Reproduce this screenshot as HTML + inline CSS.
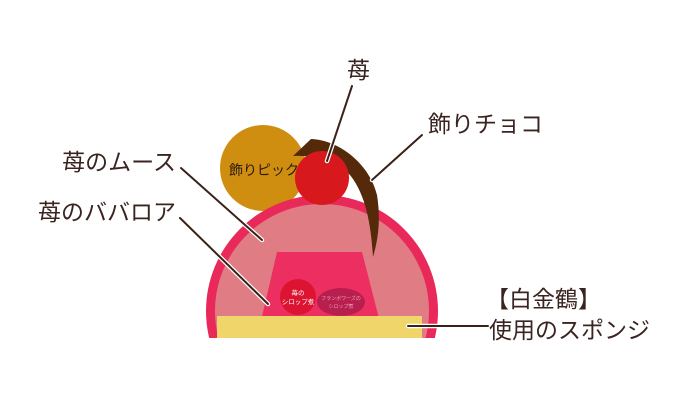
<!DOCTYPE html>
<html><head><meta charset="utf-8"><style>
html,body{margin:0;padding:0;background:#fff;width:690px;height:400px;overflow:hidden;}
svg{display:block;}
text{font-family:"Liberation Sans","Noto Sans CJK JP",sans-serif;fill:#3a2420;}
</style></head><body>
<svg width="690" height="400" viewBox="0 0 690 400">
<defs><clipPath id="c"><rect x="0" y="0" width="690" height="338"/></clipPath></defs>
<circle cx="263" cy="168" r="43" fill="#d08e10"/>
<text x="229" y="175" font-size="14" style="fill:#2a1a10">飾りピック</text>
<g clip-path="url(#c)">
<circle cx="322" cy="311" r="116" fill="#e8295a"/>
<circle cx="322" cy="311" r="107" fill="#e07c84"/>
</g>
<polygon points="277,252 362,252 384,338 257,338" fill="#ec2f60"/>
<circle cx="298" cy="297" r="18" fill="#dc1431"/>
<ellipse cx="341" cy="302" rx="24" ry="14" fill="#b81f4e"/>
<text x="298" y="295" font-size="6.5" text-anchor="middle" style="fill:#fff">苺の</text>
<text x="298" y="304" font-size="6.5" text-anchor="middle" style="fill:#fff">シロップ煮</text>
<text x="341" y="300" font-size="5" text-anchor="middle" style="fill:#e8a0b8">フランボワーズの</text>
<text x="341" y="308" font-size="5" text-anchor="middle" style="fill:#e8a0b8">シロップ煮</text>
<rect x="217" y="316" width="205" height="22" fill="#efd56a"/>
<path d="M293,156 L311,139 C340,140 370,165 377,195 C381,220 378,240 373,257 C371,225 366,195 350,175 C335,160 315,155 293,156 Z" fill="#552a0a"/>
<circle cx="322" cy="178" r="27" fill="#d7191e"/>
<g stroke-linecap="round">
<g stroke="#fff" stroke-width="4.5">
<line x1="352" y1="86" x2="327" y2="161"/>
<line x1="422" y1="135" x2="372" y2="180"/>
<line x1="181" y1="168" x2="262" y2="240"/>
<line x1="180" y1="218" x2="268" y2="304"/>
<line x1="408" y1="326" x2="488" y2="326"/>
</g>
<g stroke="#3a2218" stroke-width="2">
<line x1="352" y1="86" x2="327" y2="161"/>
<line x1="422" y1="135" x2="372" y2="180"/>
<line x1="181" y1="168" x2="262" y2="240"/>
<line x1="180" y1="218" x2="268" y2="304"/>
<line x1="408" y1="326" x2="488" y2="326"/>
</g>
</g>
<text x="347" y="78" font-size="23">苺</text>
<text x="428" y="132" font-size="23">飾りチョコ</text>
<text x="176" y="170" font-size="23" text-anchor="end">苺のムース</text>
<text x="176" y="220" font-size="23" text-anchor="end">苺のババロア</text>
<text x="486" y="307" font-size="23">【白金鶴】</text>
<text x="489" y="338" font-size="23">使用のスポンジ</text>
</svg>
</body></html>
